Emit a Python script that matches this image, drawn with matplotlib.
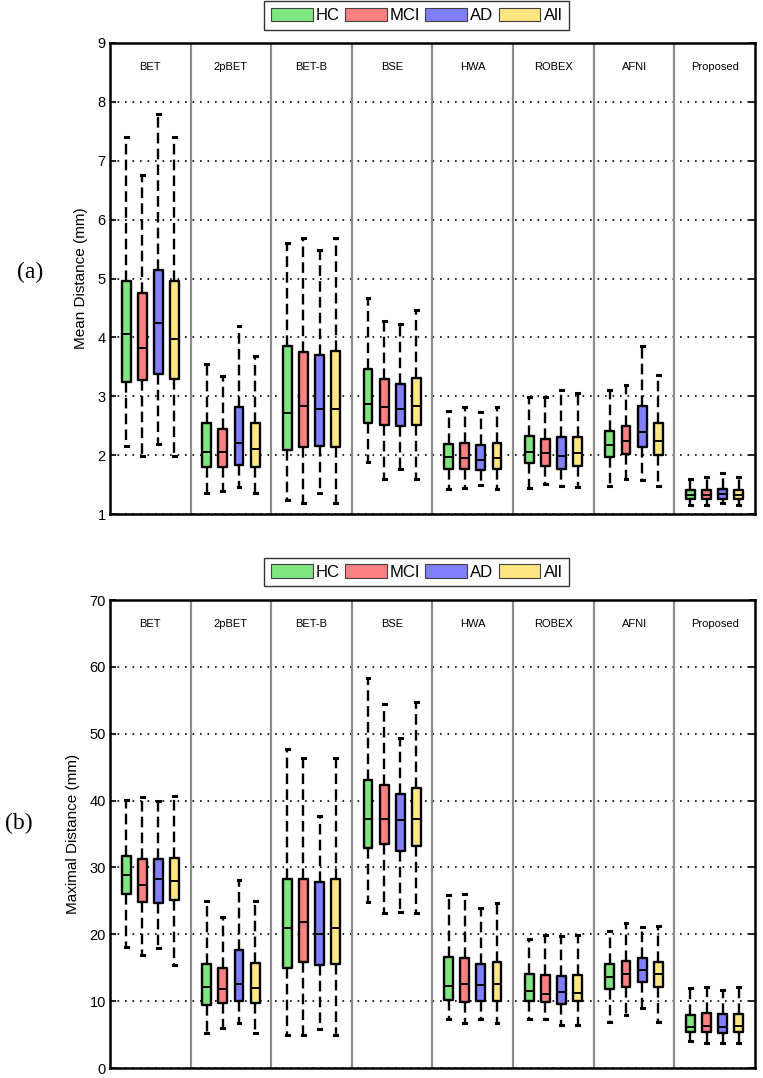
import numpy as np
import matplotlib.pyplot as plt
from matplotlib.patches import Patch

plt.rcParams['font.family'] = ['Liberation Sans', 'DejaVu Sans']

methods = ['BET', '2pBET', 'BET-B', 'BSE', 'HWA', 'ROBEX', 'AFNI', 'Proposed']
groups = ['HC', 'MCI', 'AD', 'All']
colors = ['#80e680', '#ff8080', '#8080ff', '#ffe680']

# (a) Mean distance, per method: [HC, MCI, AD, All]
mean_low = [[2.15, 1.99, 2.19, 1.99], [1.35, 1.39, 1.46, 1.35], [1.23, 1.19, 1.35, 1.19],
            [1.89, 1.59, 1.76, 1.59], [1.42, 1.45, 1.49, 1.42], [1.45, 1.51, 1.48, 1.46],
            [1.47, 1.59, 1.57, 1.47], [1.16, 1.16, 1.18, 1.16]]
mean_q1 = [[3.25, 3.28, 3.38, 3.30], [1.80, 1.79, 1.84, 1.80], [2.09, 2.14, 2.16, 2.13],
           [2.54, 2.52, 2.49, 2.52], [1.77, 1.76, 1.75, 1.77], [1.86, 1.81, 1.77, 1.81],
           [1.96, 2.02, 2.13, 2.01], [1.25, 1.26, 1.26, 1.26]]
mean_med = [[4.05, 3.82, 4.24, 3.97], [2.06, 2.06, 2.20, 2.10], [2.72, 2.84, 2.78, 2.78],
            [2.86, 2.81, 2.79, 2.83], [1.97, 1.95, 1.92, 1.95], [2.06, 2.03, 1.98, 2.03],
            [2.18, 2.24, 2.39, 2.24], [1.32, 1.33, 1.34, 1.33]]
mean_q3 = [[4.95, 4.76, 5.15, 4.95], [2.54, 2.45, 2.81, 2.55], [3.85, 3.76, 3.70, 3.77],
           [3.47, 3.30, 3.20, 3.31], [2.19, 2.20, 2.18, 2.20], [2.32, 2.28, 2.31, 2.31],
           [2.41, 2.49, 2.83, 2.55], [1.40, 1.41, 1.43, 1.41]]
mean_high = [[7.41, 6.76, 7.80, 7.41], [3.55, 3.35, 4.19, 3.69], [5.60, 5.68, 5.48, 5.68],
             [4.67, 4.27, 4.23, 4.46], [2.75, 2.82, 2.73, 2.82], [2.99, 2.99, 3.10, 3.05],
             [3.11, 3.19, 3.85, 3.36], [1.59, 1.62, 1.69, 1.62]]

# (b) Maximal distance
max_low = [[18.1, 16.9, 17.9, 15.4], [5.2, 6.0, 6.8, 5.2], [5.0, 5.0, 5.9, 5.0],
           [24.8, 23.2, 23.4, 23.2], [7.4, 6.8, 7.3, 6.8], [7.3, 7.4, 6.5, 6.5],
           [6.9, 7.9, 8.9, 6.9], [4.1, 3.8, 3.8, 3.8]]
max_q1 = [[26.1, 24.9, 24.7, 25.1], [9.45, 9.75, 9.95, 9.65], [14.9, 15.8, 15.4, 15.5],
          [32.9, 33.5, 32.4, 33.2], [10.15, 9.85, 10.05, 10.0], [10.05, 9.9, 9.55, 9.95],
          [11.8, 12.1, 12.9, 12.1], [5.4, 5.4, 5.3, 5.4]]
max_med = [[28.9, 27.4, 28.3, 28.0], [12.1, 11.8, 12.5, 12.0], [20.95, 21.8, 20.0, 21.0],
           [37.3, 37.3, 37.1, 37.3], [12.3, 12.6, 12.4, 12.5], [11.5, 11.1, 11.3, 11.2],
           [13.6, 14.0, 14.7, 14.0], [6.2, 6.3, 6.1, 6.3]]
max_q3 = [[31.7, 31.3, 31.2, 31.4], [15.5, 15.0, 17.6, 15.7], [28.3, 28.2, 27.8, 28.2],
          [43.1, 42.4, 41.05, 41.85], [16.6, 16.4, 15.6, 15.9], [14.0, 13.9, 13.7, 13.9],
          [15.5, 16.0, 16.5, 15.9], [8.0, 8.2, 8.05, 8.15]]
max_high = [[40.15, 40.5, 40.0, 40.65], [25.0, 22.6, 28.1, 25.0], [47.75, 46.3, 37.65, 46.3],
            [58.4, 54.5, 49.3, 54.75], [25.9, 26.1, 23.9, 24.7], [19.35, 19.85, 19.8, 19.9],
            [20.45, 21.7, 21.1, 21.3], [12.0, 12.1, 11.7, 12.1]]

offsets = [-0.3, -0.1, 0.1, 0.3]


def draw_panel(ax, low, q1, med, q3, high, ylim, yticks, ylabel):
    ax.set_xlim(-0.5, len(methods) - 0.5)
    ax.set_ylim(*ylim)
    ax.set_yticks(yticks)
    ax.yaxis.grid(True, linestyle=(0, (1, 3.5)), color='black', linewidth=1.2)
    ax.set_axisbelow(True)
    for d in np.arange(0.5, len(methods) - 0.5, 1):
        ax.axvline(d, color='#8c8c8c', linewidth=1.6, zorder=1.5)
    for i, m in enumerate(methods):
        stats = []
        for g in range(len(groups)):
            stats.append(dict(whislo=low[i][g], q1=q1[i][g], med=med[i][g],
                              q3=q3[i][g], whishi=high[i][g], fliers=[]))
        bp = ax.bxp(stats, positions=[i + o for o in offsets], widths=0.11,
                    capwidths=0.035, patch_artist=True, showfliers=False,
                    boxprops=dict(linewidth=1.7, edgecolor='black'),
                    medianprops=dict(color='black', linewidth=1.4),
                    whiskerprops=dict(color='black', linewidth=1.7, linestyle=(0, (4.5, 2.2))),
                    capprops=dict(color='black', linewidth=2.2),
                    manage_ticks=False)
        for patch, c in zip(bp['boxes'], colors):
            patch.set_facecolor(c)
            patch.set_joinstyle('round')
            patch.set_zorder(3)
        for line in bp['medians']:
            line.set_zorder(4)
        ax.text(i, 0.949, m, transform=ax.get_xaxis_transform(), ha='center',
                va='center', fontsize=8)
    ax.set_xticks([])
    ax.tick_params(axis='y', direction='in', length=4, width=1.2, right=True,
                   labelsize=10.5, pad=3)
    for s in ax.spines.values():
        s.set_linewidth(1.8)
    ax.set_ylabel(ylabel, fontsize=11, labelpad=7)


fig = plt.figure(figsize=(7.63, 10.78), dpi=100)
ax1 = fig.add_axes([110 / 763, 1 - 514 / 1078, 645 / 763, 471 / 1078])
ax2 = fig.add_axes([110 / 763, 1 - 1068 / 1078, 645 / 763, 468 / 1078])

draw_panel(ax1, mean_low, mean_q1, mean_med, mean_q3, mean_high,
           (1, 9), range(1, 10), 'Mean Distance (mm)')
draw_panel(ax2, max_low, max_q1, max_med, max_q3, max_high,
           (0, 70), range(0, 71, 10), 'Maximal Distance (mm)')

handles = [Patch(facecolor=c, edgecolor='#404040', linewidth=0.8) for c in colors]
for ycen in [1 - 15.5 / 1078, 1 - 572 / 1078]:
    fig.legend(handles, groups, loc='center', bbox_to_anchor=(416.5 / 763, ycen),
               ncol=4, fontsize=12, frameon=True, fancybox=False, edgecolor='#333333',
               handlelength=2.5, handleheight=0.85, handletextpad=0.2,
               columnspacing=0.3, borderpad=0.4, borderaxespad=0, framealpha=1)

fig.text(30 / 763, 1 - 272 / 1078, '(a)', family=['Liberation Serif'], fontsize=17,
         ha='center', va='center')
fig.text(19 / 763, 1 - 823 / 1078, '(b)', family=['Liberation Serif'], fontsize=17,
         ha='center', va='center')

fig.savefig('out.png', dpi=100)
